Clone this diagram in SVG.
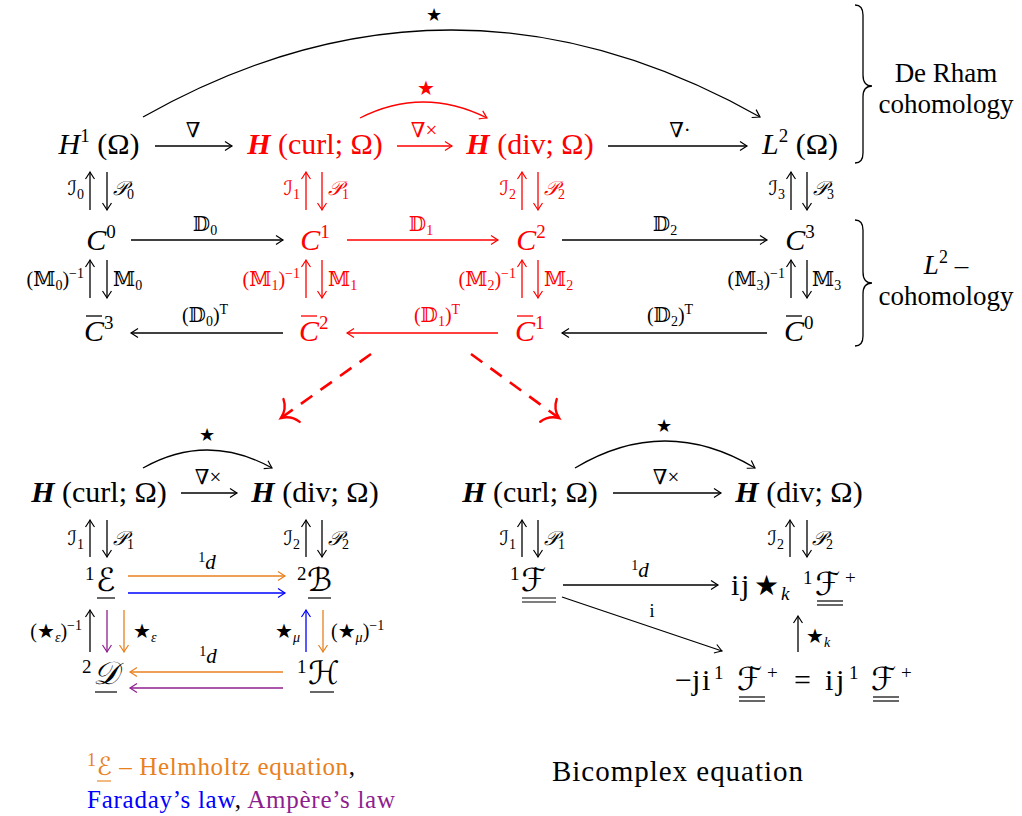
<svg xmlns="http://www.w3.org/2000/svg" width="1022" height="816" viewBox="0 0 1022 816">
<style>
text{font-family:"Liberation Serif","DejaVu Serif","DejaVu Sans",serif;fill:#000}
.m{font-size:30px}
.sc{font-size:32px;font-style:italic}
.sp{font-size:19px}
.l{font-size:20px}
.s{font-size:14px}
.it{font-style:italic}
.bi{font-style:italic;font-weight:bold}
.r{fill:#ff0000}
.o{fill:#E8801E}
.b{fill:#0000ff}
.p{fill:#8E1E8E}
.k{stroke:#000;stroke-width:1.3;fill:none}
.kr{stroke:#ff0000;stroke-width:1.3;fill:none}
.ko{stroke:#E8801E;stroke-width:1.3;fill:none}
.kb{stroke:#0000ff;stroke-width:1.3;fill:none}
.kp{stroke:#8E1E8E;stroke-width:1.3;fill:none}
.ul{stroke:#000;stroke-width:1.2}
</style>
<defs>
<marker id="ah" viewBox="-10 -6 12 12" refX="0" refY="0" markerWidth="12" markerHeight="12" markerUnits="userSpaceOnUse" orient="auto"><path d="M-7,-4.5 Q-2,-1.2 0,0 Q-2,1.2 -7,4.5" fill="none" stroke="#000" stroke-width="1.2"/></marker>
<marker id="ahR" viewBox="-10 -6 12 12" refX="0" refY="0" markerWidth="12" markerHeight="12" markerUnits="userSpaceOnUse" orient="auto"><path d="M-7,-4.5 Q-2,-1.2 0,0 Q-2,1.2 -7,4.5" fill="none" stroke="#ff0000" stroke-width="1.2"/></marker>
<marker id="ahO" viewBox="-10 -6 12 12" refX="0" refY="0" markerWidth="12" markerHeight="12" markerUnits="userSpaceOnUse" orient="auto"><path d="M-7,-4.5 Q-2,-1.2 0,0 Q-2,1.2 -7,4.5" fill="none" stroke="#E8801E" stroke-width="1.2"/></marker>
<marker id="ahB" viewBox="-10 -6 12 12" refX="0" refY="0" markerWidth="12" markerHeight="12" markerUnits="userSpaceOnUse" orient="auto"><path d="M-7,-4.5 Q-2,-1.2 0,0 Q-2,1.2 -7,4.5" fill="none" stroke="#0000ff" stroke-width="1.2"/></marker>
<marker id="ahP" viewBox="-10 -6 12 12" refX="0" refY="0" markerWidth="12" markerHeight="12" markerUnits="userSpaceOnUse" orient="auto"><path d="M-7,-4.5 Q-2,-1.2 0,0 Q-2,1.2 -7,4.5" fill="none" stroke="#8E1E8E" stroke-width="1.2"/></marker>
<marker id="ahBig" viewBox="-18 -16 22 32" refX="0" refY="0" markerWidth="22" markerHeight="32" markerUnits="userSpaceOnUse" orient="auto"><path d="M-13,-14 Q-10,-4 0,0 Q-10,4 -13,14" fill="none" stroke="#ff0000" stroke-width="2.4" stroke-linecap="round"/></marker>
</defs>

<g id="connectors">
  <path class="k" d="M143,117 Q451,-57 760,117" marker-end="url(#ah)"/>
  <path class="kr" d="M360,118 Q423,86 487,118" marker-end="url(#ahR)"/>
  <line class="k" x1="155" y1="146" x2="232" y2="146" marker-end="url(#ah)"/>
  <line class="kr" x1="397" y1="146" x2="452" y2="146" marker-end="url(#ahR)"/>
  <line class="k" x1="608" y1="146" x2="747" y2="146" marker-end="url(#ah)"/>
  <line class="k" x1="90" y1="210" x2="90" y2="172" marker-end="url(#ah)"/>
  <line class="k" x1="107" y1="172" x2="107" y2="210" marker-end="url(#ah)"/>
  <line class="kr" x1="306" y1="210" x2="306" y2="172" marker-end="url(#ahR)"/>
  <line class="kr" x1="322" y1="172" x2="322" y2="210" marker-end="url(#ahR)"/>
  <line class="kr" x1="522" y1="210" x2="522" y2="172" marker-end="url(#ahR)"/>
  <line class="kr" x1="538" y1="172" x2="538" y2="210" marker-end="url(#ahR)"/>
  <line class="k" x1="791" y1="210" x2="791" y2="172" marker-end="url(#ah)"/>
  <line class="k" x1="807" y1="172" x2="807" y2="210" marker-end="url(#ah)"/>
  <line class="k" x1="131" y1="240" x2="283" y2="240" marker-end="url(#ah)"/>
  <line class="kr" x1="347" y1="240" x2="498" y2="240" marker-end="url(#ahR)"/>
  <line class="k" x1="562" y1="240" x2="767" y2="240" marker-end="url(#ah)"/>
  <line class="k" x1="90" y1="298" x2="90" y2="260" marker-end="url(#ah)"/>
  <line class="k" x1="107" y1="260" x2="107" y2="298" marker-end="url(#ah)"/>
  <line class="kr" x1="306" y1="298" x2="306" y2="260" marker-end="url(#ahR)"/>
  <line class="kr" x1="322" y1="260" x2="322" y2="298" marker-end="url(#ahR)"/>
  <line class="kr" x1="522" y1="298" x2="522" y2="260" marker-end="url(#ahR)"/>
  <line class="kr" x1="538" y1="260" x2="538" y2="298" marker-end="url(#ahR)"/>
  <line class="k" x1="791" y1="298" x2="791" y2="260" marker-end="url(#ah)"/>
  <line class="k" x1="807" y1="260" x2="807" y2="298" marker-end="url(#ah)"/>
  <line class="k" x1="283" y1="333" x2="131" y2="333" marker-end="url(#ah)"/>
  <line class="kr" x1="498" y1="333" x2="347" y2="333" marker-end="url(#ahR)"/>
  <line class="k" x1="767" y1="333" x2="562" y2="333" marker-end="url(#ah)"/>
  <path class="k" stroke-width="1.1" d="M855,5 Q863,5 863,15 L863,75 Q863,86 872,86 Q863,86 863,97 L863,153 Q863,163 855,163"/>
  <path class="k" stroke-width="1.1" d="M855,220 Q863,220 863,230 L863,272 Q863,283 872,283 Q863,283 863,294 L863,336 Q863,346 855,346"/>
  <line x1="371" y1="354" x2="281" y2="418" stroke="#ff0000" stroke-width="2.6" stroke-dasharray="14 10" marker-end="url(#ahBig)"/>
  <line x1="471" y1="354" x2="559" y2="418" stroke="#ff0000" stroke-width="2.6" stroke-dasharray="14 10" marker-end="url(#ahBig)"/>

  <path class="k" d="M143,468 Q207,432 272,468" marker-end="url(#ah)"/>
  <line class="k" x1="181" y1="493" x2="237" y2="493" marker-end="url(#ah)"/>
  <line class="k" x1="90" y1="557" x2="90" y2="520" marker-end="url(#ah)"/>
  <line class="k" x1="107" y1="520" x2="107" y2="557" marker-end="url(#ah)"/>
  <line class="k" x1="306" y1="557" x2="306" y2="520" marker-end="url(#ah)"/>
  <line class="k" x1="322" y1="520" x2="322" y2="557" marker-end="url(#ah)"/>
  <line class="ko" x1="128" y1="576" x2="285" y2="576" marker-end="url(#ahO)"/>
  <line class="kb" x1="128" y1="593" x2="285" y2="593" marker-end="url(#ahB)"/>
  <line class="k" x1="90" y1="652" x2="90" y2="610" marker-end="url(#ah)"/>
  <line class="kp" x1="107" y1="610" x2="107" y2="652" marker-end="url(#ahP)"/>
  <line class="ko" x1="124" y1="610" x2="124" y2="652" marker-end="url(#ahO)"/>
  <line class="kb" x1="306" y1="652" x2="306" y2="610" marker-end="url(#ahB)"/>
  <line class="ko" x1="323" y1="610" x2="323" y2="652" marker-end="url(#ahO)"/>
  <line class="ko" x1="283" y1="672" x2="130" y2="672" marker-end="url(#ahO)"/>
  <line class="kp" x1="283" y1="688" x2="130" y2="688" marker-end="url(#ahP)"/>

  <path class="k" d="M575,468 Q665,414 755,468" marker-end="url(#ah)"/>
  <line class="k" x1="613" y1="493" x2="721" y2="493" marker-end="url(#ah)"/>
  <line class="k" x1="522" y1="557" x2="522" y2="520" marker-end="url(#ah)"/>
  <line class="k" x1="538" y1="520" x2="538" y2="557" marker-end="url(#ah)"/>
  <line class="k" x1="790" y1="557" x2="790" y2="520" marker-end="url(#ah)"/>
  <line class="k" x1="807" y1="520" x2="807" y2="557" marker-end="url(#ah)"/>
  <line class="k" x1="563" y1="585" x2="718" y2="585" marker-end="url(#ah)"/>
  <line class="k" x1="562" y1="597" x2="722" y2="651" marker-end="url(#ah)"/>
  <line class="k" x1="798" y1="652" x2="798" y2="616" marker-end="url(#ah)"/>
</g>

<g id="labels">
  <text x="434" y="21" font-size="18" text-anchor="middle">★</text>
  <text x="426" y="95" font-size="20" text-anchor="middle" class="r">★</text>
  <text x="193" y="137" font-size="21" text-anchor="middle">∇</text>
  <text x="424" y="137" font-size="21" text-anchor="middle" class="r">∇×</text>
  <text x="680" y="137" font-size="21" text-anchor="middle">∇·</text>

  <text x="84" y="195" class="l" text-anchor="end"><tspan class="it">ℐ</tspan><tspan class="s" dy="4">0</tspan></text>
  <text x="113" y="195" class="l"><tspan class="it">𝒫</tspan><tspan class="s" dy="4">0</tspan></text>
  <text x="300" y="195" class="l r" text-anchor="end"><tspan class="it">ℐ</tspan><tspan class="s" dy="4">1</tspan></text>
  <text x="328" y="195" class="l r"><tspan class="it">𝒫</tspan><tspan class="s" dy="4">1</tspan></text>
  <text x="516" y="195" class="l r" text-anchor="end"><tspan class="it">ℐ</tspan><tspan class="s" dy="4">2</tspan></text>
  <text x="544" y="195" class="l r"><tspan class="it">𝒫</tspan><tspan class="s" dy="4">2</tspan></text>
  <text x="785" y="195" class="l" text-anchor="end"><tspan class="it">ℐ</tspan><tspan class="s" dy="4">3</tspan></text>
  <text x="813" y="195" class="l"><tspan class="it">𝒫</tspan><tspan class="s" dy="4">3</tspan></text>

  <text x="205" y="231" class="l" text-anchor="middle">𝔻<tspan class="s" dy="4">0</tspan></text>
  <text x="421" y="231" class="l r" text-anchor="middle">𝔻<tspan class="s" dy="4">1</tspan></text>
  <text x="665" y="231" class="l" text-anchor="middle">𝔻<tspan class="s" dy="4">2</tspan></text>

  <text x="84" y="286" class="l" text-anchor="end">(𝕄<tspan class="s" dy="4">0</tspan><tspan dy="-4">)</tspan><tspan class="s" dy="-8">−1</tspan></text>
  <text x="113" y="286" class="l">𝕄<tspan class="s" dy="4">0</tspan></text>
  <text x="300" y="286" class="l r" text-anchor="end">(𝕄<tspan class="s" dy="4">1</tspan><tspan dy="-4">)</tspan><tspan class="s" dy="-8">−1</tspan></text>
  <text x="328" y="286" class="l r">𝕄<tspan class="s" dy="4">1</tspan></text>
  <text x="516" y="286" class="l r" text-anchor="end">(𝕄<tspan class="s" dy="4">2</tspan><tspan dy="-4">)</tspan><tspan class="s" dy="-8">−1</tspan></text>
  <text x="544" y="286" class="l r">𝕄<tspan class="s" dy="4">2</tspan></text>
  <text x="785" y="286" class="l" text-anchor="end">(𝕄<tspan class="s" dy="4">3</tspan><tspan dy="-4">)</tspan><tspan class="s" dy="-8">−1</tspan></text>
  <text x="812" y="286" class="l">𝕄<tspan class="s" dy="4">3</tspan></text>

  <text x="205" y="322" class="l" text-anchor="middle">(𝔻<tspan class="s" dy="4">0</tspan><tspan dy="-4">)</tspan><tspan class="s" dy="-8">T</tspan></text>
  <text x="437" y="322" class="l r" text-anchor="middle">(𝔻<tspan class="s" dy="4">1</tspan><tspan dy="-4">)</tspan><tspan class="s" dy="-8">T</tspan></text>
  <text x="670" y="322" class="l" text-anchor="middle">(𝔻<tspan class="s" dy="4">2</tspan><tspan dy="-4">)</tspan><tspan class="s" dy="-8">T</tspan></text>

  <text x="207" y="441" font-size="18" text-anchor="middle">★</text>
  <text x="208" y="484" font-size="21" text-anchor="middle">∇×</text>
  <text x="84" y="545" class="l" text-anchor="end"><tspan class="it">ℐ</tspan><tspan class="s" dy="4">1</tspan></text>
  <text x="113" y="545" class="l"><tspan class="it">𝒫</tspan><tspan class="s" dy="4">1</tspan></text>
  <text x="300" y="545" class="l" text-anchor="end"><tspan class="it">ℐ</tspan><tspan class="s" dy="4">2</tspan></text>
  <text x="328" y="545" class="l"><tspan class="it">𝒫</tspan><tspan class="s" dy="4">2</tspan></text>
  <text x="207" y="569" font-size="21" text-anchor="middle"><tspan class="s" dy="-7">1</tspan><tspan class="it" dy="7">d</tspan></text>
  <text x="82" y="638" class="l" text-anchor="end">(★<tspan class="s it" dy="4">ε</tspan><tspan dy="-4">)</tspan><tspan class="s" dy="-8">−1</tspan></text>
  <text x="133" y="638" class="l">★<tspan class="s it" dy="4">ε</tspan></text>
  <text x="300" y="638" class="l" text-anchor="end">★<tspan class="s it" dy="4">μ</tspan></text>
  <text x="331" y="638" class="l">(★<tspan class="s it" dy="4">μ</tspan><tspan dy="-4">)</tspan><tspan class="s" dy="-8">−1</tspan></text>
  <text x="208" y="663" font-size="21" text-anchor="middle"><tspan class="s" dy="-7">1</tspan><tspan class="it" dy="7">d</tspan></text>

  <text x="664" y="432" font-size="18" text-anchor="middle">★</text>
  <text x="666" y="484" font-size="21" text-anchor="middle">∇×</text>
  <text x="516" y="545" class="l" text-anchor="end"><tspan class="it">ℐ</tspan><tspan class="s" dy="4">1</tspan></text>
  <text x="544" y="545" class="l"><tspan class="it">𝒫</tspan><tspan class="s" dy="4">1</tspan></text>
  <text x="784" y="545" class="l" text-anchor="end"><tspan class="it">ℐ</tspan><tspan class="s" dy="4">2</tspan></text>
  <text x="812" y="545" class="l"><tspan class="it">𝒫</tspan><tspan class="s" dy="4">2</tspan></text>
  <text x="640" y="577" font-size="21" text-anchor="middle"><tspan class="s" dy="-7">1</tspan><tspan class="it" dy="7">d</tspan></text>
  <text x="652" y="617" font-size="18" text-anchor="middle">i</text>
  <text x="806" y="643" class="l">★<tspan class="s it" dy="4">k</tspan></text>
</g>

<g id="n-H1"><text x="99" y="154" class="m" text-anchor="middle"><tspan class="it">H</tspan><tspan class="sp" dy="-12">1</tspan><tspan dy="12"> (Ω)</tspan></text></g>
<g id="n-Hcurl"><text x="315" y="154" class="m r" text-anchor="middle"><tspan class="bi">H</tspan> (curl; Ω)</text></g>
<g id="n-Hdiv"><text x="530" y="154" class="m r" text-anchor="middle"><tspan class="bi">H</tspan> (div; Ω)</text></g>
<g id="n-L2"><text x="800" y="154" class="m" text-anchor="middle"><tspan class="it">L</tspan><tspan class="sp" dy="-12">2</tspan><tspan dy="12"> (Ω)</tspan></text></g>

<g id="n-C0"><text x="101" y="250" class="m" text-anchor="middle"><tspan class="it">C</tspan><tspan class="sp" dy="-12">0</tspan></text></g>
<g id="n-C1"><text x="315" y="250" class="m r" text-anchor="middle"><tspan class="it">C</tspan><tspan class="sp" dy="-12">1</tspan></text></g>
<g id="n-C2"><text x="531" y="250" class="m r" text-anchor="middle"><tspan class="it">C</tspan><tspan class="sp" dy="-12">2</tspan></text></g>
<g id="n-C3"><text x="800" y="250" class="m" text-anchor="middle"><tspan class="it">C</tspan><tspan class="sp" dy="-12">3</tspan></text></g>

<g id="n-Cb3"><text x="84" y="341" class="m"><tspan class="it">C</tspan><tspan class="sp" dy="-12">3</tspan></text><line x1="86" y1="316" x2="102" y2="316" stroke="#000" stroke-width="1.3"/></g>
<g id="n-Cb2"><text x="299" y="341" class="m r"><tspan class="it">C</tspan><tspan class="sp" dy="-12">2</tspan></text><line x1="301" y1="316" x2="317" y2="316" stroke="#ff0000" stroke-width="1.3"/></g>
<g id="n-Cb1"><text x="515" y="341" class="m r"><tspan class="it">C</tspan><tspan class="sp" dy="-12">1</tspan></text><line x1="517" y1="316" x2="533" y2="316" stroke="#ff0000" stroke-width="1.3"/></g>
<g id="n-Cb0"><text x="784" y="341" class="m"><tspan class="it">C</tspan><tspan class="sp" dy="-12">0</tspan></text><line x1="786" y1="316" x2="802" y2="316" stroke="#000" stroke-width="1.3"/></g>

<g id="n-deRham"><text x="946" y="82" font-size="27" text-anchor="middle">De Rham</text><text x="946" y="113" font-size="27" text-anchor="middle">cohomology</text></g>
<g id="n-L2coh"><text x="946" y="274" font-size="27" text-anchor="middle"><tspan class="it">L</tspan><tspan font-size="18" dy="-11">2</tspan><tspan dy="11"> –</tspan></text><text x="946" y="305" font-size="27" text-anchor="middle">cohomology</text></g>

<g id="n-bl-Hcurl"><text x="99" y="502" class="m" text-anchor="middle"><tspan class="bi">H</tspan> (curl; Ω)</text></g>
<g id="n-bl-Hdiv"><text x="315" y="502" class="m" text-anchor="middle"><tspan class="bi">H</tspan> (div; Ω)</text></g>
<g id="n-E"><text y="591"><tspan class="sp" x="85" dy="-11">1</tspan><tspan class="sc" x="96" dy="11">ℰ</tspan></text><line class="ul" x1="97" y1="598" x2="115" y2="598"/></g>
<g id="n-B"><text y="591"><tspan class="sp" x="297" dy="-11">2</tspan><tspan class="sc" x="307" dy="11">ℬ</tspan></text><line class="ul" x1="308" y1="598" x2="331" y2="598"/></g>
<g id="n-D"><text y="684"><tspan class="sp" x="82" dy="-11">2</tspan><tspan class="sc" x="93" dy="11">𝒟</tspan></text><line class="ul" x1="95" y1="692" x2="117" y2="692"/></g>
<g id="n-H"><text y="684"><tspan class="sp" x="297" dy="-11">1</tspan><tspan class="sc" x="308" dy="11">ℋ</tspan></text><line class="ul" x1="310" y1="692" x2="334" y2="692"/></g>

<g id="n-br-Hcurl"><text x="530" y="502" class="m" text-anchor="middle"><tspan class="bi">H</tspan> (curl; Ω)</text></g>
<g id="n-br-Hdiv"><text x="799" y="502" class="m" text-anchor="middle"><tspan class="bi">H</tspan> (div; Ω)</text></g>
<g id="n-F"><text y="591"><tspan class="sp" x="510" dy="-11">1</tspan><tspan class="sc" x="521" dy="11">ℱ</tspan></text><line class="ul" x1="522" y1="598" x2="556" y2="598"/><line class="ul" x1="522" y1="602" x2="556" y2="602"/></g>
<g id="n-ijF"><text y="595" class="m"><tspan x="731">i</tspan><tspan x="741">j</tspan><tspan x="754" font-size="28">★</tspan><tspan x="781" class="sp it" dy="5">k</tspan><tspan x="803" class="sp" dy="-16">1</tspan><tspan x="815" class="sc" dy="11">ℱ</tspan><tspan x="845" class="sp" dy="-11">+</tspan></text><line class="ul" x1="817" y1="601" x2="843" y2="601"/><line class="ul" x1="817" y1="605" x2="843" y2="605"/></g>
<g id="n-jiF"><text y="690" class="m"><tspan x="675">−</tspan><tspan x="692">j</tspan><tspan x="702">i</tspan><tspan x="714" class="sp" dy="-11">1</tspan><tspan x="737" class="sc" dy="11">ℱ</tspan><tspan x="767" class="sp" dy="-11">+</tspan><tspan x="794" dy="11">=</tspan><tspan x="825">i</tspan><tspan x="836">j</tspan><tspan x="849" class="sp" dy="-11">1</tspan><tspan x="871" class="sc" dy="11">ℱ</tspan><tspan x="901" class="sp" dy="-11">+</tspan></text><line class="ul" x1="739" y1="697" x2="765" y2="697"/><line class="ul" x1="739" y1="701" x2="765" y2="701"/><line class="ul" x1="873" y1="697" x2="899" y2="697"/><line class="ul" x1="873" y1="701" x2="899" y2="701"/></g>

<g id="caption-left">
  <text x="87" y="775" font-size="25" textLength="268" lengthAdjust="spacing"><tspan class="o" font-size="18" dy="-9">1</tspan><tspan class="o it" dy="9">ℰ</tspan><tspan class="o"> – Helmholtz equation</tspan>,</text>
  <line x1="97" y1="781" x2="111" y2="781" stroke="#E8801E" stroke-width="1.1"/>
  <text x="87" y="808" font-size="25" textLength="308" lengthAdjust="spacing"><tspan class="b">Faraday’s law</tspan>, <tspan class="p">Ampère’s law</tspan></text>
</g>
<g id="caption-right"><text x="552" y="781" font-size="29" textLength="251" lengthAdjust="spacing">Bicomplex equation</text></g>
</svg>
